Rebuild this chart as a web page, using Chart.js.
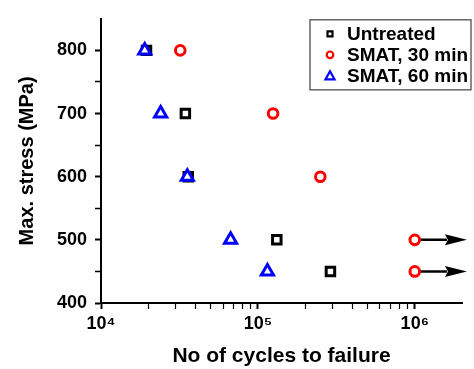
<!DOCTYPE html>
<html><head><meta charset="utf-8">
<script src="https://cdn.jsdelivr.net/npm/chart.js@4.4.0/dist/chart.umd.min.js"></script>
<style>html,body{margin:0;padding:0;background:#fff;} #wrap{width:474px;height:369px;}</style>
</head><body><div id="wrap"><canvas id="c" width="474" height="369"></canvas></div>
<script>
const stressLevels = [800, 700, 600, 500, 450];
const untreatedCycles = [19500, 34500, 36000, 132000, 290000];
const smat30Cycles = [32000, 125000, 250000, 1000000, 1000000];
const smat60Cycles = [19000, 24000, 35500, 67000, 115000];
const seriesNames = ['Untreated', 'SMAT, 30 min', 'SMAT, 60 min'];
const runoutStress = [500, 450];
const runoutFrom = 1000000;
const runoutTo = 2150000;
const yTickValues = [400, 450, 500, 550, 600, 650, 700, 750, 800];
const yLabelValues = [400, 500, 600, 700, 800];
const xLabelValues = [1e4, 1e5, 1e6];
const xLabelTexts = ['10\u2074', '10\u2075', '10\u2076'];
const xMinorValues = [2e4, 3e4, 4e4, 5e4, 6e4, 7e4, 8e4, 9e4, 2e5, 3e5, 4e5, 5e5, 6e5, 7e5, 8e5, 9e5];

const FONT = '"Liberation Sans", Arial, sans-serif';
const pts = (xs) => xs.map((x, i) => ({x: x, y: stressLevels[i]}));
const isMajorX = (v) => xLabelValues.some(m => Math.abs(m - v) / m < 1e-6);

const overlay = {
  id: 'overlay',
  beforeDatasetsDraw(chart) {
    const ctx = chart.ctx, xs = chart.scales.x, ys = chart.scales.y;
    ctx.save();
    runoutStress.forEach(s => {
      const y = ys.getPixelForValue(s);
      const x0 = xs.getPixelForValue(runoutFrom);
      const x1 = xs.getPixelForValue(runoutTo);
      const head = 22, half = 5.5;
      ctx.strokeStyle = '#000'; ctx.lineWidth = 2.5;
      ctx.beginPath(); ctx.moveTo(x0, y); ctx.lineTo(x1 - head + 2, y); ctx.stroke();
      ctx.fillStyle = '#000';
      ctx.beginPath(); ctx.moveTo(x1, y); ctx.lineTo(x1 - head, y - half); ctx.lineTo(x1 - head + 3, y); ctx.lineTo(x1 - head, y + half); ctx.closePath(); ctx.fill();
    });
    ctx.restore();
  },
  afterDraw(chart) {
    const ctx = chart.ctx, ca = chart.chartArea;
    ctx.save();
    const bx = ca.right - 152, by = ca.top + 1, bw = 161, bh = 70;
    ctx.strokeStyle = '#666'; ctx.lineWidth = 1.5;
    ctx.strokeRect(bx, by, bw, bh);
    const colors = ['#000', '#ff0000', '#0000ff'];
    const styles = ['rect', 'circle', 'triangle'];
    ctx.font = 'bold 19px ' + FONT;
    ctx.textBaseline = 'middle';
    seriesNames.forEach((name, i) => {
      const cy = by + 14 + i * 21;
      const cx = bx + 20;
      ctx.strokeStyle = colors[i]; ctx.lineWidth = 2.2; ctx.fillStyle = '#fff';
      ctx.beginPath();
      if (styles[i] === 'rect') { ctx.rect(cx - 2.5, cy - 2.5, 5, 5); }
      else if (styles[i] === 'circle') { ctx.arc(cx, cy, 3.3, 0, Math.PI * 2); }
      else { ctx.moveTo(cx, cy - 4.5); ctx.lineTo(cx + 4.5, cy + 3.5); ctx.lineTo(cx - 4.5, cy + 3.5); ctx.closePath(); }
      ctx.fill(); ctx.stroke();
      ctx.fillStyle = '#000';
      ctx.fillText(name, bx + 37, cy + 1);
    });
    ctx.restore();
  }
};

new Chart(document.getElementById('c'), {
  type: 'scatter',
  data: {
    datasets: [
      {label: seriesNames[0], data: pts(untreatedCycles), pointStyle: 'rect', pointRadius: 6, pointBorderWidth: 3,
       borderColor: '#000', backgroundColor: '#fff', order: 3},
      {label: seriesNames[1], data: pts(smat30Cycles), pointStyle: 'circle', pointRadius: 4.8, pointBorderWidth: 3,
       borderColor: '#ff0000', backgroundColor: '#fff', order: 2},
      {label: seriesNames[2], data: pts(smat60Cycles), pointStyle: 'triangle', pointRadius: 7, pointBorderWidth: 3,
       borderColor: '#0000ff', backgroundColor: '#fff', order: 1}
    ]
  },
  options: {
    responsive: false, animation: false, devicePixelRatio: 1,
    layout: {padding: {top: 13, right: 12, left: 0, bottom: 0}},
    plugins: {legend: {display: false}, tooltip: {enabled: false}},
    scales: {
      x: {
        type: 'logarithmic', position: 'bottom', min: 1e4, max: 2e6,
        afterBuildTicks: (s) => {
          const all = xLabelValues.concat(xMinorValues).sort((a, b) => a - b);
          s.ticks = all.map(v => ({value: v, major: isMajorX(v)}));
        },
        afterFit: (s) => { s.height = 66; },
        ticks: {
          autoSkip: false, maxRotation: 0, color: '#000', padding: 4,
          font: {family: FONT, size: 18, weight: 'bold'},
          callback: (v) => { const i = xLabelValues.findIndex(m => Math.abs(m - v) / m < 1e-6); return i >= 0 ? xLabelTexts[i] : ''; }
        },
        grid: {drawOnChartArea: false, drawTicks: true, tickLength: 6, tickColor: '#000',
               tickWidth: (c) => (c.tick && isMajorX(c.tick.value)) ? 2 : 1.2},
        border: {display: true, color: '#000', width: 2},
        title: {display: true, text: 'No of cycles to failure', color: '#000', padding: {top: 0, bottom: 0},
                font: {family: FONT, size: 21, weight: 'bold'}}
      },
      y: {
        type: 'linear', min: 400, max: 850,
        afterBuildTicks: (s) => { s.ticks = yTickValues.map(v => ({value: v})); },
        afterFit: (s) => { s.width = 101; },
        ticks: {
          autoSkip: false, color: '#000', padding: 8,
          font: {family: FONT, size: 18, weight: 'bold'},
          callback: (v) => yLabelValues.includes(v) ? String(v) : ''
        },
        grid: {drawOnChartArea: false, drawTicks: true, tickLength: 6, tickColor: '#000',
               tickWidth: (c) => (c.tick && yLabelValues.includes(c.tick.value)) ? 2 : 1.5},
        border: {display: true, color: '#000', width: 2},
        title: {display: true, text: 'Max. stress (MPa)', color: '#000', padding: {top: 15, bottom: 0},
                font: {family: FONT, size: 20, weight: 'bold'}}
      }
    }
  },
  plugins: [overlay]
});
</script>
</body></html>
